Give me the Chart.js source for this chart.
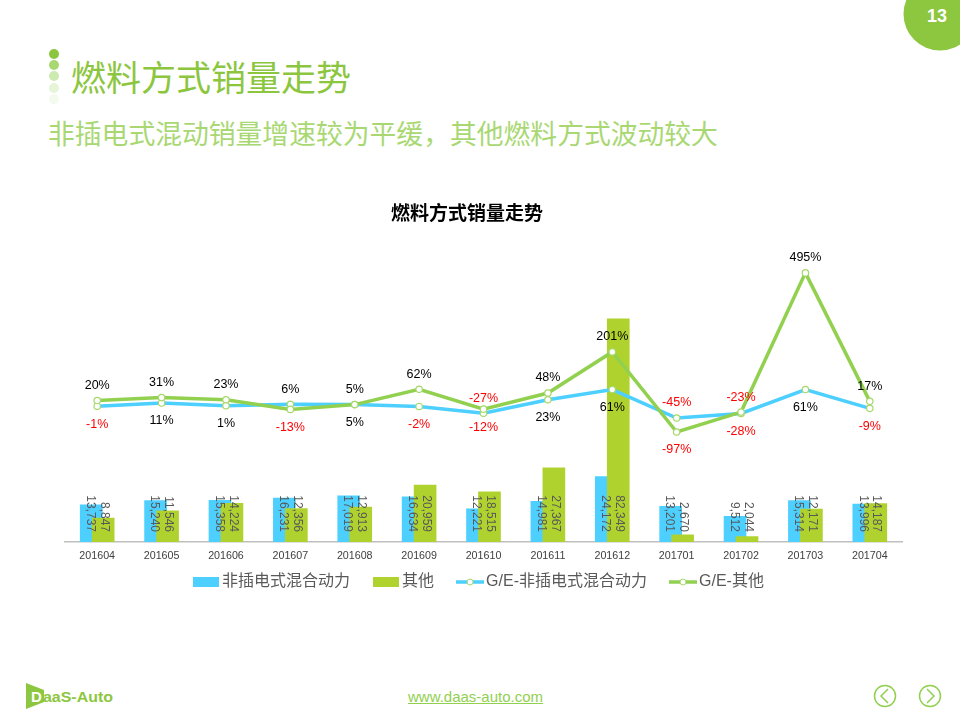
<!DOCTYPE html>
<html>
<head>
<meta charset="utf-8">
<style>
  html, body { margin: 0; padding: 0; background: #fff; }
  body { width: 960px; height: 720px; position: relative; overflow: hidden; font-family: "Noto Sans CJK SC", "Liberation Sans", sans-serif; }
  .abs { position: absolute; white-space: nowrap; }
  #chart { position: absolute; left: 0; top: 190px; }
  #page { position: absolute; left: 0; top: 0; }
</style>
<script src="https://cdn.jsdelivr.net/npm/chart.js@4"></script>
</head>
<body>
<svg id="page" width="960" height="720" xmlns="http://www.w3.org/2000/svg">
  <circle cx="940" cy="14" r="36.5" fill="#8dc63f"/>
  <circle cx="54" cy="54" r="5" fill="#8cc63f"/>
  <circle cx="54" cy="65" r="5" fill="#a9d873"/>
  <circle cx="54" cy="76" r="5" fill="#cdeab0"/>
  <circle cx="54" cy="88" r="5" fill="#e6f4d8"/>
  <circle cx="54" cy="99" r="5" fill="#f4faee"/>
  <polygon points="26,683 44,690 44,702 26,709" fill="#8dc63f"/>
  <text x="31" y="702" font-family="Liberation Sans" font-weight="bold" font-size="15" fill="#fff">D</text>
  <text x="43" y="702" font-family="Liberation Sans" font-weight="bold" font-size="15" fill="#8dc63f" textLength="70" lengthAdjust="spacingAndGlyphs">aaS-Auto</text>
  <circle cx="885" cy="696" r="10.5" fill="none" stroke="#92d050" stroke-width="1.5"/>
  <polyline points="888,689 881,696 888,703" fill="none" stroke="#92d050" stroke-width="1.5"/>
  <circle cx="930" cy="696" r="10.5" fill="none" stroke="#92d050" stroke-width="1.5"/>
  <polyline points="927,689 934,696 927,703" fill="none" stroke="#92d050" stroke-width="1.5"/>
</svg>
<div class="abs" style="left:903px;top:6px;width:68px;text-align:center;color:#fff;font:bold 18px 'Liberation Sans'">13</div>
<div class="abs" style="left:71px;top:50px;color:#8cc63f;font-size:35px;line-height:52px">燃料方式销量走势</div>
<div class="abs" style="left:48px;top:113px;color:#a9d873;font-size:26.8px;line-height:40px">非插电式混动销量增速较为平缓，其他燃料方式波动较大</div>
<div class="abs" style="left:408px;top:688px;color:#92d050;font:15px 'Liberation Sans';text-decoration:underline">www.daas-auto.com</div>
<canvas id="chart" width="934" height="436"></canvas>

<script>
const months = ['201604', '201605', '201606', '201607', '201608', '201609', '201610', '201611', '201612', '201701', '201702', '201703', '201704']
const hybridSales = [13737, 15240, 15358, 16231, 17019, 16634, 12221, 14981, 24172, 13201, 9512, 15314, 13996]
const otherSales = [8847, 11546, 14224, 12356, 12913, 20959, 18515, 27367, 82349, 2670, 2044, 12171, 14187]
const hybridGE = [-1, 11, 1, 6, 5, -2, -27, 23, 61, -45, -28, 61, -9]
const otherGE = [20, 31, 23, -13, 5, 62, -12, 48, 201, -97, -23, 495, 17]
const seriesNames = ['非插电式混合动力', '其他', 'G/E-非插电式混合动力', 'G/E-其他']
// months where the hybrid label sits above its line and the other one below
const hybridLabelOnTop = ['201607', '201610', '201701']

const BLUE = '#4dcfff'
const OLIVE = '#b0d22e'
const GREEN = '#92d050'
const MARKER = '#a6d86a'
const FONT = "'Liberation Sans', 'Noto Sans CJK SC', sans-serif"
const BAR_SHIFT = 0.093

// legend icons, Chart.js draws a canvas pointStyle at its natural size
function barIcon(color) {
  const c = document.createElement('canvas')
  c.width = 26
  c.height = 10
  const ctx = c.getContext('2d')
  ctx.fillStyle = color
  ctx.fillRect(0, 0, 26, 10)
  return c
}
function lineIcon(color) {
  const c = document.createElement('canvas')
  c.width = 28
  c.height = 12
  const ctx = c.getContext('2d')
  ctx.strokeStyle = color
  ctx.lineWidth = 3.5
  ctx.beginPath()
  ctx.moveTo(0, 6)
  ctx.lineTo(28, 6)
  ctx.stroke()
  ctx.beginPath()
  ctx.arc(14, 6, 3, 0, Math.PI * 2)
  ctx.fillStyle = '#fff'
  ctx.fill()
  ctx.lineWidth = 1
  ctx.strokeStyle = MARKER
  ctx.stroke()
  return c
}
const legendIcons = [barIcon(BLUE), barIcon(OLIVE), lineIcon(BLUE), lineIcon(GREEN)]

const legendShift = {
  id: 'legendShift',
  afterLayout(chart) {
    const l = chart.legend
    l.left += 14
    l.right += 14
    l.top -= 26
    l.bottom -= 26
  },
}

const valueLabels = {
  id: 'valueLabels',
  afterDatasetsDraw(chart) {
    const ctx = chart.ctx
    ctx.save()
    // bar values, rotated and ending just above the axis
    ctx.font = '12px ' + FONT
    ctx.fillStyle = '#595959'
    ctx.textAlign = 'right'
    ctx.textBaseline = 'middle'
    ;[0, 1].forEach(d => {
      const values = d == 0 ? hybridSales : otherSales
      chart.getDatasetMeta(d).data.forEach((bar, i) => {
        ctx.save()
        ctx.translate(bar.x + (d == 0 ? -1 : 1), bar.base - 10)
        ctx.rotate(Math.PI / 2)
        ctx.fillText(values[i].toLocaleString('en-US'), 0, 0)
        ctx.restore()
      })
    })
    // growth labels
    ctx.font = '12.5px ' + FONT
    ctx.textAlign = 'center'
    ;[2, 3].forEach(d => {
      const values = d == 2 ? hybridGE : otherGE
      chart.getDatasetMeta(d).data.forEach((pt, i) => {
        const flip = hybridLabelOnTop.indexOf(months[i]) != -1
        const above = d == 2 ? flip : !flip
        ctx.fillStyle = values[i] < 0 ? '#ff0000' : '#000000'
        ctx.fillText(values[i] + '%', pt.x, pt.y + (above ? -15 : 18))
      })
    })
    ctx.restore()
  },
}

new Chart(document.getElementById('chart').getContext('2d'), {
  data: {
    datasets: [
      {
        type: 'bar',
        label: seriesNames[0],
        data: hybridSales.map((v, i) => ({ x: i - BAR_SHIFT, y: v })),
        backgroundColor: BLUE,
        yAxisID: 'y',
        grouped: false,
        barThickness: 22,
        order: 4,
      },
      {
        type: 'bar',
        label: seriesNames[1],
        data: otherSales.map((v, i) => ({ x: i + BAR_SHIFT, y: v })),
        backgroundColor: OLIVE,
        yAxisID: 'y',
        grouped: false,
        barThickness: 22,
        order: 3,
      },
      {
        type: 'line',
        label: seriesNames[2],
        data: hybridGE.map((v, i) => ({ x: i, y: v })),
        borderColor: BLUE,
        borderWidth: 3.5,
        pointRadius: 3.2,
        pointBackgroundColor: '#fff',
        pointBorderColor: MARKER,
        pointBorderWidth: 1.2,
        yAxisID: 'y1',
        order: 2,
      },
      {
        type: 'line',
        label: seriesNames[3],
        data: otherGE.map((v, i) => ({ x: i, y: v })),
        borderColor: GREEN,
        borderWidth: 3.5,
        pointRadius: 3.2,
        pointBackgroundColor: '#fff',
        pointBorderColor: MARKER,
        pointBorderWidth: 1.2,
        yAxisID: 'y1',
        order: 1,
      },
    ],
  },
  plugins: [legendShift, valueLabels],
  options: {
    responsive: false,
    animation: false,
    events: [],
    plugins: {
      tooltip: { enabled: false },
      title: {
        display: true,
        text: '燃料方式销量走势',
        color: '#000',
        font: { family: "'Noto Sans CJK SC'", size: 19, weight: 'bold' },
        padding: { top: 11, bottom: 6 },
      },
      legend: {
        position: 'bottom',
        labels: {
          usePointStyle: true,
          pointStyleWidth: 16,
          padding: 28,
          color: '#595959',
          font: { family: FONT, size: 16 },
          sort: (a, b) => a.datasetIndex - b.datasetIndex,
          generateLabels(chart) {
            const items = Chart.defaults.plugins.legend.labels.generateLabels(chart)
            return items.map(it => ({ ...it, text: seriesNames[it.datasetIndex], pointStyle: legendIcons[it.datasetIndex] }))
          },
        },
      },
    },
    scales: {
      x: {
        type: 'linear',
        min: -0.5,
        max: 12.5,
        offset: false,
        grid: { display: false, drawTicks: false },
        border: { color: '#bfbfbf', width: 1.5 },
        afterBuildTicks(s) { s.ticks = months.map((m, i) => ({ value: i })) },
        ticks: {
          stepSize: 1,
          autoSkip: false,
          maxRotation: 0,
          padding: 8,
          color: '#404040',
          font: { family: FONT, size: 10.7 },
          callback: v => months[v],
        },
        afterFit(s) { s.height = 30 },
      },
      y: {
        min: 0,
        max: 115200,
        grid: { display: false },
        border: { display: false },
        ticks: { display: false },
        afterFit(s) { s.width = 65 },
      },
      y1: {
        position: 'right',
        min: -506.3,
        max: 655.3,
        grid: { display: false },
        border: { display: false },
        ticks: { display: false },
        afterFit(s) { s.width = 32 },
      },
    },
  },
})
</script>
</body>
</html>
